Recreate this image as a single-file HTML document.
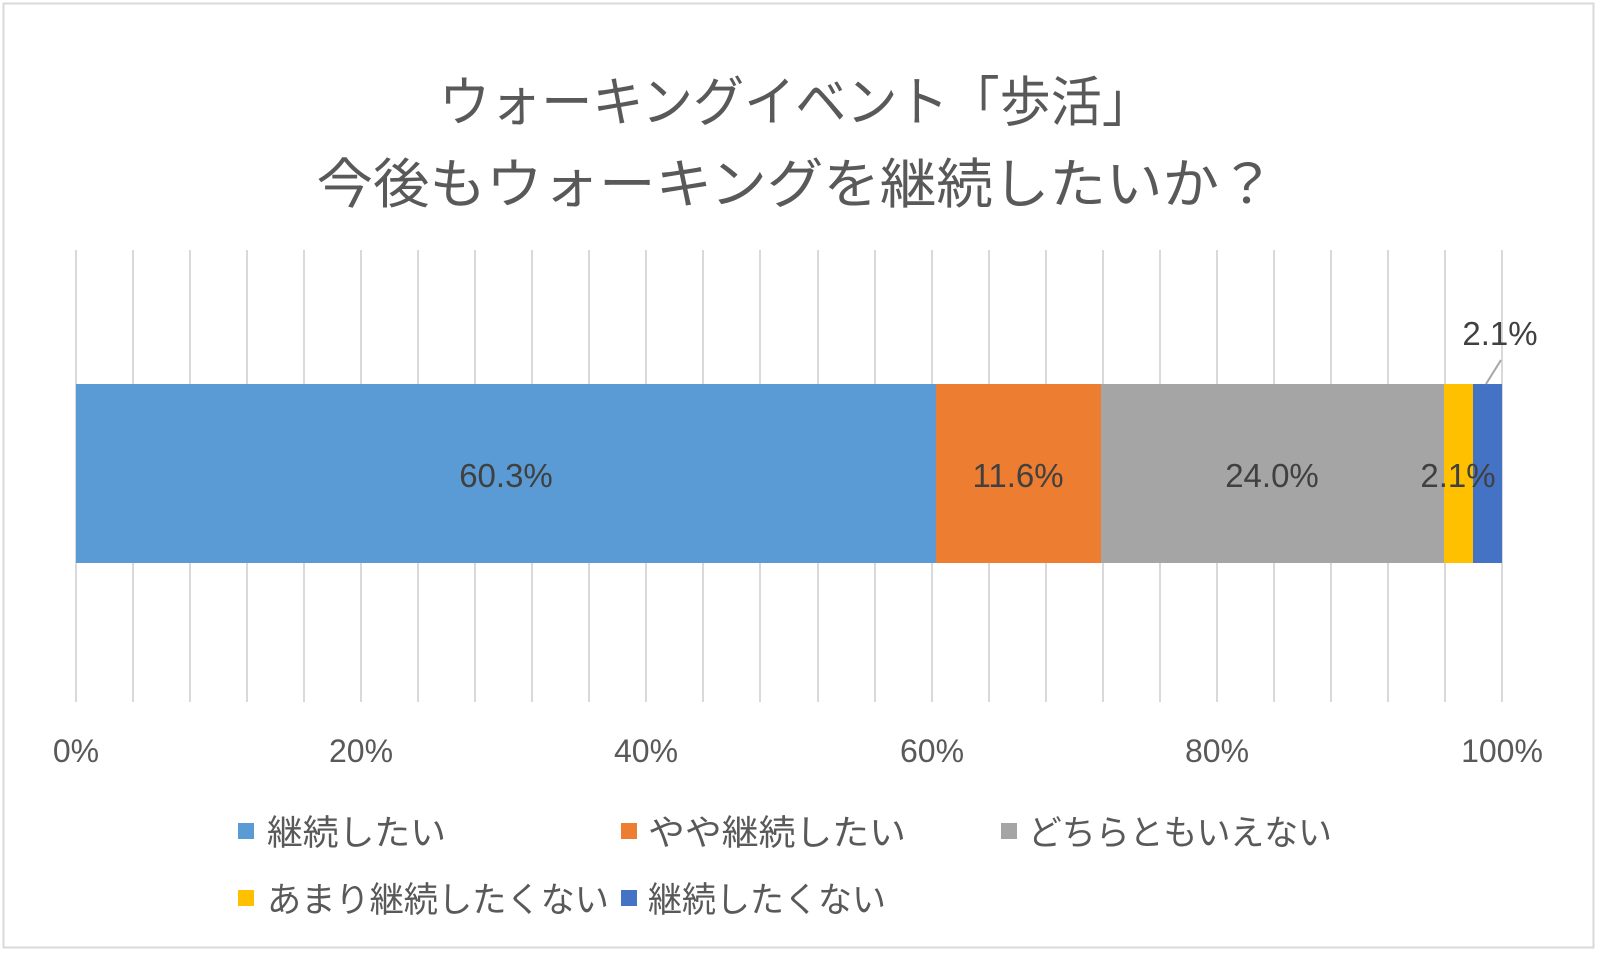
<!DOCTYPE html>
<html><head><meta charset="utf-8"><style>
body{margin:0;width:1600px;height:958px;background:#fff;overflow:hidden}
svg text{font-family:"Liberation Sans","Noto Sans CJK JP",sans-serif}
</style></head><body>
<svg width="1600" height="958" viewBox="0 0 1600 958" xmlns="http://www.w3.org/2000/svg">
<rect x="3.5" y="3.5" width="1590" height="944" fill="#fff" stroke="#d9d9d9" stroke-width="2"/>
<g fill="#595959" font-size="54" text-anchor="middle">
<text x="796" y="121" textLength="714" lengthAdjust="spacingAndGlyphs">ウォーキングイベント「歩活」</text>
<text x="796" y="203" textLength="959" lengthAdjust="spacingAndGlyphs">今後もウォーキングを継続したいか？</text>
</g>
<g stroke="#d9d9d9" stroke-width="2">
<line x1="76" y1="250" x2="76" y2="702"/><line x1="133" y1="250" x2="133" y2="702"/><line x1="190" y1="250" x2="190" y2="702"/><line x1="247" y1="250" x2="247" y2="702"/><line x1="304" y1="250" x2="304" y2="702"/><line x1="361" y1="250" x2="361" y2="702"/><line x1="418" y1="250" x2="418" y2="702"/><line x1="475" y1="250" x2="475" y2="702"/><line x1="532" y1="250" x2="532" y2="702"/><line x1="589" y1="250" x2="589" y2="702"/><line x1="646" y1="250" x2="646" y2="702"/><line x1="703" y1="250" x2="703" y2="702"/><line x1="760" y1="250" x2="760" y2="702"/><line x1="818" y1="250" x2="818" y2="702"/><line x1="875" y1="250" x2="875" y2="702"/><line x1="932" y1="250" x2="932" y2="702"/><line x1="989" y1="250" x2="989" y2="702"/><line x1="1046" y1="250" x2="1046" y2="702"/><line x1="1103" y1="250" x2="1103" y2="702"/><line x1="1160" y1="250" x2="1160" y2="702"/><line x1="1217" y1="250" x2="1217" y2="702"/><line x1="1274" y1="250" x2="1274" y2="702"/><line x1="1331" y1="250" x2="1331" y2="702"/><line x1="1388" y1="250" x2="1388" y2="702"/><line x1="1445" y1="250" x2="1445" y2="702"/><line x1="1502" y1="250" x2="1502" y2="702"/>
</g>
<rect x="76" y="384" width="860" height="179" fill="#5b9bd5"/>
<rect x="936" y="384" width="165" height="179" fill="#ed7d31"/>
<rect x="1101" y="384" width="343" height="179" fill="#a5a5a5"/>
<rect x="1444" y="384" width="29" height="179" fill="#ffc000"/>
<rect x="1473" y="384" width="29" height="179" fill="#4472c4"/>
<line x1="1501" y1="360" x2="1486" y2="384" stroke="#a6a6a6" stroke-width="2"/>
<g fill="#404040" font-size="33" text-anchor="middle">
<text x="506" y="487">60.3%</text>
<text x="1018" y="487">11.6%</text>
<text x="1272" y="487">24.0%</text>
<text x="1458" y="487">2.1%</text>
<text x="1500" y="345">2.1%</text>
</g>
<g fill="#595959" font-size="32" text-anchor="middle">
<text x="76" y="762">0%</text><text x="361" y="762">20%</text><text x="646" y="762">40%</text><text x="932" y="762">60%</text><text x="1217" y="762">80%</text><text x="1502" y="762">100%</text>
</g>
<g font-size="35" fill="#595959">
<rect x="238" y="823" width="16" height="16" fill="#5b9bd5"/><text x="267" y="845" textLength="179" lengthAdjust="spacingAndGlyphs">継続したい</text>
<rect x="621" y="823" width="16" height="16" fill="#ed7d31"/><text x="648" y="845" textLength="258" lengthAdjust="spacingAndGlyphs">やや継続したい</text>
<rect x="1001" y="823" width="16" height="16" fill="#a5a5a5"/><text x="1028" y="845" textLength="304" lengthAdjust="spacingAndGlyphs">どちらともいえない</text>
<rect x="238" y="890" width="16" height="16" fill="#ffc000"/><text x="267" y="912" textLength="342" lengthAdjust="spacingAndGlyphs">あまり継続したくない</text>
<rect x="621" y="890" width="16" height="16" fill="#4472c4"/><text x="648" y="912" textLength="238" lengthAdjust="spacingAndGlyphs">継続したくない</text>
</g>
</svg>
</body></html>
